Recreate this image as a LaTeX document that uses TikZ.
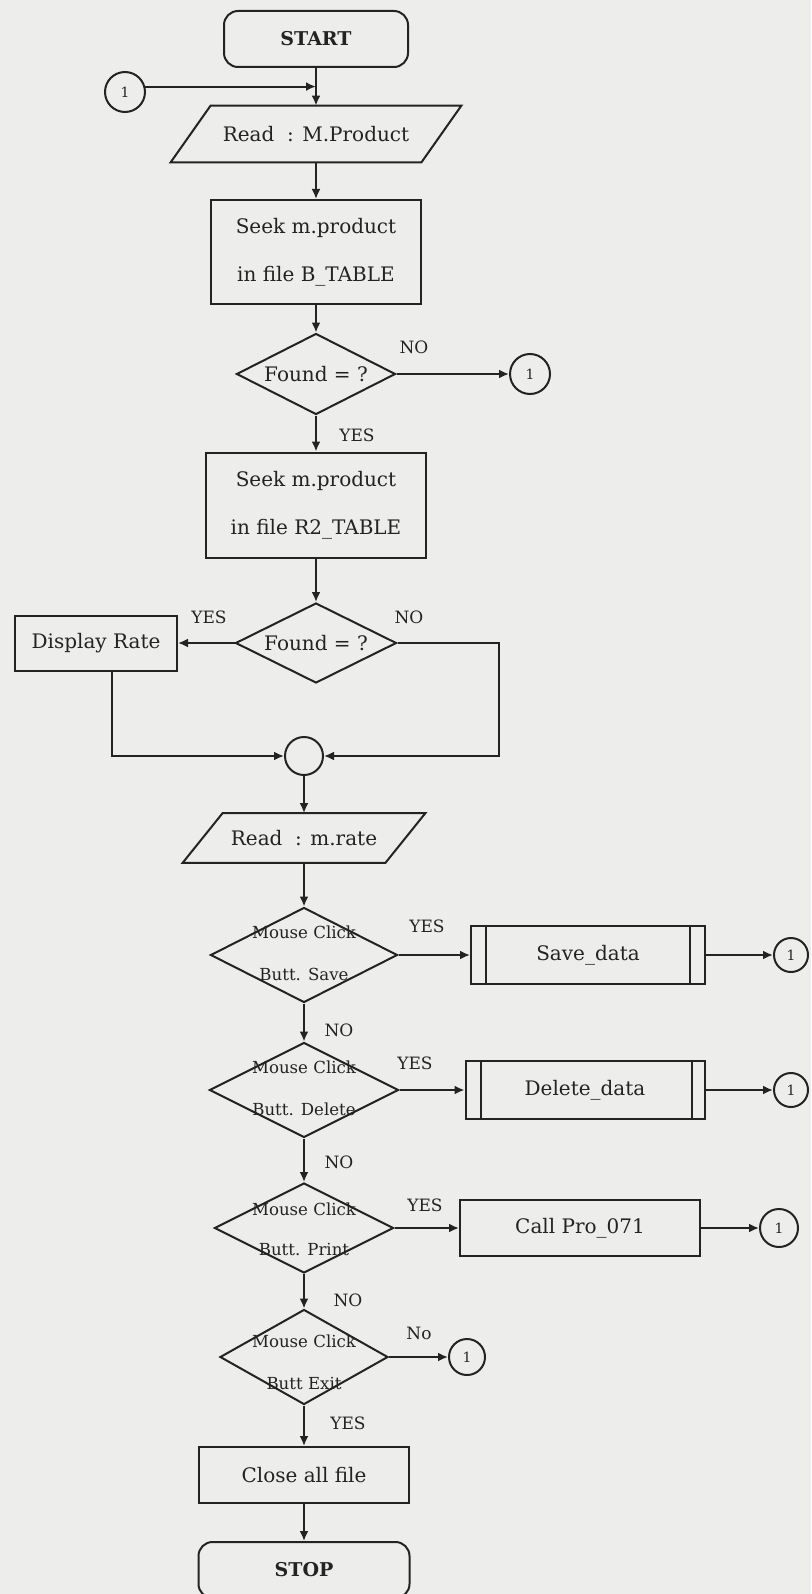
\documentclass[tikz,border=0pt]{standalone}
\usepackage{fontspec}
\setmainfont{DejaVu Serif}
\usetikzlibrary{shapes.geometric,arrows.meta}
\definecolor{bgc}{RGB}{237,237,235}
\definecolor{ink}{RGB}{35,35,35}
\newcommand\mainf{\fontsize{10}{12}\selectfont}
\newcommand\termf{\fontsize{9.5}{11}\selectfont\bfseries}
\newcommand\diaf{\fontsize{8.3}{10}\selectfont}
\newcommand\lblf{\fontsize{8.5}{10}\selectfont}
\newcommand\connf{\fontsize{7}{8}\selectfont}
\begin{document}
\begin{tikzpicture}[x=0.5pt,y=-0.5pt,
  every node/.style={text=ink},
  ln/.style={draw=ink,line width=1pt},
  arr/.style={ln,-{Latex[length=5pt,width=4.5pt]}},
  box/.style={ln,rectangle,inner sep=0pt,font=\mainf,align=center},
  termbox/.style={ln,rectangle,rounded corners=7pt,inner sep=0pt,font=\termf},
  dia/.style={ln,diamond,inner sep=0pt},
  dtxt/.style={font=\diaf,align=center,inner sep=0pt},
  conn/.style={ln,circle,inner sep=0pt,minimum size=20pt,font=\connf},
  io/.style={inner sep=0pt,font=\mainf},
  lbl/.style={font=\lblf,inner sep=0pt}]
\useasboundingbox (0,0) rectangle (811,1594);
\clip (0,0) rectangle (811,1594);
\fill[bgc] (0,0) rectangle (811,1594);

% ---- top part
\node[termbox,minimum width=92pt,minimum height=28pt] (start) at (316,39) {START};
\node[conn] (c0) at (125,92) {1};
\node[io,minimum width=125pt,minimum height=28pt] (p1) at (316,134) {Read~~: M.Product};
\draw[ln] ([xshift=10pt]p1.north west) -- ([xshift=10pt]p1.north east) -- ([xshift=-10pt]p1.south east) -- ([xshift=-10pt]p1.south west) -- cycle;
\node[box,minimum width=105pt,minimum height=52pt] (r1) at (316,252) {Seek m.product\\[12pt]in file B\_TABLE};
\node[dia,minimum width=79.5pt,minimum height=40.5pt] (d1) at (316,374) {};
\node[io] (d1t) at (316,374) {Found = ?};
\node[lbl] (no1) at (414,347) {NO};
\node[conn] (c1) at (530,374) {1};
\node[lbl] (yes1) at (357,435) {YES};
\node[box,minimum width=110pt,minimum height=52.5pt] (r2) at (316,505) {Seek m.product\\[12pt]in file R2\_TABLE};
\node[dia,minimum width=80.5pt,minimum height=40pt] (d2) at (316,643) {};
\node[io] (d2t) at (316,643) {Found = ?};
\node[lbl] (yes2) at (209,617) {YES};
\node[lbl] (no2) at (409,617) {NO};
\node[box,minimum width=81pt,minimum height=27.5pt] (disp) at (96,643) {Display Rate};
\node[ln,circle,minimum size=19pt,inner sep=0pt] (m) at (304,756) {};
\coordinate (rt) at (499,643);
\node[io,minimum width=101pt,minimum height=24.5pt] (p2) at (304,838) {Read~~: m.rate};
\draw[ln] ([xshift=10pt]p2.north west) -- ([xshift=10pt]p2.north east) -- ([xshift=-10pt]p2.south east) -- ([xshift=-10pt]p2.south west) -- cycle;

% ---- mouse click decisions
\node[dia,minimum width=93.5pt,minimum height=47.5pt] (dm1) at (304,955) {};
\node[dtxt] (dm1t) at (304,953) {Mouse Click\\[11pt]Butt. Save};
\node[lbl] (yes3) at (427,926) {YES};
\node[box,minimum width=117pt,minimum height=29pt] (save) at (588,955) {Save\_data};
\draw[ln] ([xshift=8pt]save.north west) -- ([xshift=8pt]save.south west);
\draw[ln] ([xshift=-8pt]save.north east) -- ([xshift=-8pt]save.south east);
\node[conn,minimum size=17pt] (c2) at (791,955) {1};
\node[lbl] (no3) at (339,1030) {NO};

\node[dia,minimum width=94.5pt,minimum height=47.5pt] (dm2) at (304,1090) {};
\node[dtxt] (dm2t) at (304,1088) {Mouse Click\\[11pt]Butt. Delete};
\node[lbl] (yes4) at (415,1063) {YES};
\node[box,minimum width=119.5pt,minimum height=29pt] (del) at (585,1090) {Delete\_data};
\draw[ln] ([xshift=8pt]del.north west) -- ([xshift=8pt]del.south west);
\draw[ln] ([xshift=-7pt]del.north east) -- ([xshift=-7pt]del.south east);
\node[conn,minimum size=17pt] (c3) at (791,1090) {1};
\node[lbl] (no4) at (339,1162) {NO};

\node[dia,minimum width=89.5pt,minimum height=45pt] (dm3) at (304,1228) {};
\node[dtxt] (dm3t) at (304,1229) {Mouse Click\\[10pt]Butt. Print};
\node[lbl] (yes5) at (425,1205) {YES};
\node[box,minimum width=120pt,minimum height=28pt] (call) at (580,1228) {Call Pro\_071};
\node[conn,minimum size=19pt] (c4) at (779,1228) {1};
\node[lbl] (no5) at (348,1300) {NO};

\node[dia,minimum width=84pt,minimum height=47.5pt] (dm4) at (304,1357) {};
\node[dtxt] (dm4t) at (304,1362) {Mouse Click\\[11pt]Butt Exit};
\node[lbl] (no6) at (419,1333) {No};
\node[conn,minimum size=18pt] (c5) at (467,1357) {1};
\node[lbl] (yes6) at (348,1423) {YES};
\node[box,minimum width=105pt,minimum height=28pt] (close) at (304,1475) {Close all file};
\node[termbox,minimum width=105.5pt,minimum height=28pt] (stop) at (304,1570) {STOP};

% ---- connectors
\draw[arr] (start.south) -- (p1.north);
\draw[arr] (c0.15) -- (c0.15 -| start.south);
\draw[arr] (p1.south) -- (r1.north);
\draw[arr] (r1.south) -- (d1.north);
\draw[arr] (d1.east) -- (c1.west);
\draw[arr] (d1.south) -- (r2.north);
\draw[arr] (r2.south) -- (d2.north);
\draw[arr] (d2.west) -- (disp.east);
\draw[arr] ([xshift=8pt]disp.south) -- ([xshift=8pt]disp.south |- m.west) -- (m.west);
\draw[arr] (d2.east) -- (rt) -- (rt |- m.east) -- (m.east);
\draw[arr] (m.south) -- (p2.north);
\draw[arr] (p2.south) -- (dm1.north);
\draw[arr] (dm1.east) -- (save.west);
\draw[arr] (save.east) -- (c2.west);
\draw[arr] (dm1.south) -- (dm2.north);
\draw[arr] (dm2.east) -- (del.west);
\draw[arr] (del.east) -- (c3.west);
\draw[arr] (dm2.south) -- (dm3.north);
\draw[arr] (dm3.east) -- (call.west);
\draw[arr] (call.east) -- (c4.west);
\draw[arr] (dm3.south) -- (dm4.north);
\draw[arr] (dm4.east) -- (c5.west);
\draw[arr] (dm4.south) -- (close.north);
\draw[arr] (close.south) -- (stop.north);
\end{tikzpicture}
\end{document}
